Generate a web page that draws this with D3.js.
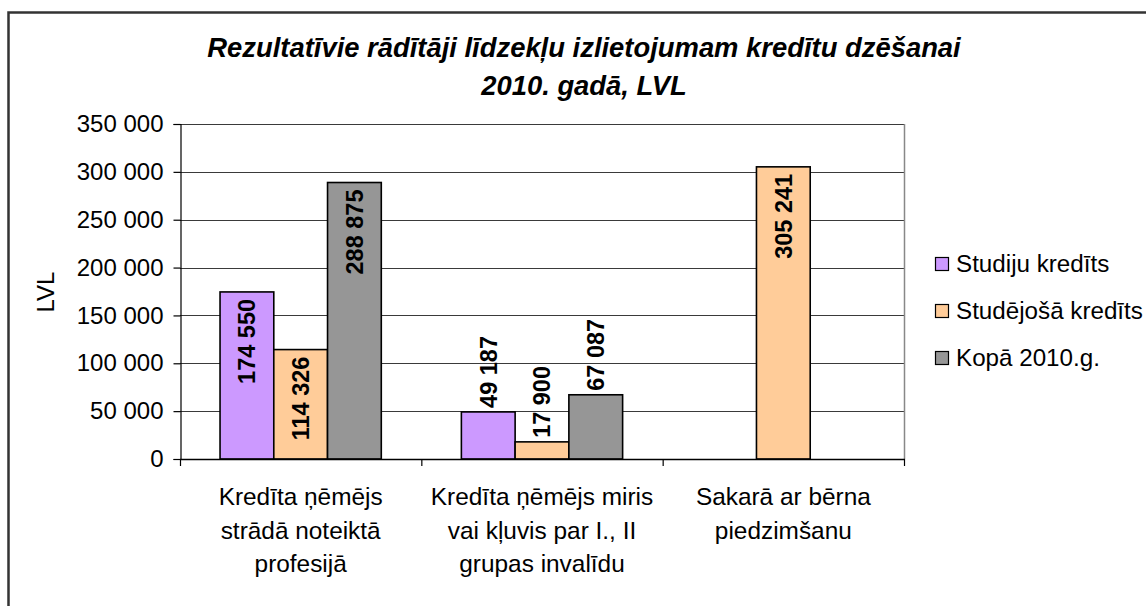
<!DOCTYPE html>
<html>
  <head>
    <meta charset="utf-8"/>
    <title>Kredītu dzēšana 2010</title>
    <style>
      body { margin: 0; background: #fff; }
      text { font-family: "Liberation Sans", Arial, sans-serif; fill: #000; }
      .title { font-size: 27.4px; font-weight: bold; font-style: italic; }
      .tick-label { font-size: 24px; }
      .cat-label { font-size: 24.4px; }
      .legend-label { font-size: 24.2px; }
      .value-label { font-size: 23.5px; font-weight: bold; }
      .grid { stroke: #3a3a3a; stroke-width: 1.2px; }
      .bar { stroke: #000; stroke-width: 1.6px; }
    </style>
    <script src="https://d3js.org/d3.v7.min.js"></script>
  </head>
  <body>
    <svg id="chart" width="1146" height="606"></svg>

    <script>
      // data
      var titleLines = ["Rezultatīvie rādītāji līdzekļu izlietojumam kredītu dzēšanai", "2010. gadā, LVL"];
      var categories = [
        ["Kredīta ņēmējs", "strādā noteiktā", "profesijā"],
        ["Kredīta ņēmējs miris", "vai kļuvis par I., II", "grupas invalīdu"],
        ["Sakarā ar bērna", "piedzimšanu"]
      ];
      var seriesNames = ["Studiju kredīts", "Studējošā kredīts", "Kopā 2010.g."];
      var studiju = [174550, 49187, null];
      var studejosa = [114326, 17900, 305241];
      var kopa = [288875, 67087, null];
      var seriesColors = ["#cc99ff", "#ffcc99", "#969696"];
      var yTicks = [0, 50000, 100000, 150000, 200000, 250000, 300000, 350000];
      var yLabel = "LVL";

      var seriesValues = [studiju, studejosa, kopa];

      var svg = d3.select("#chart");
      var plot = { left: 180, right: 904, top: 124, bottom: 459 };

      var lv = d3.formatLocale({ decimal: ",", thousands: " ", grouping: [3], currency: ["", ""] });
      var fmt = lv.format(",d");

      // outer chart border (runs past the picture edge like the original)
      svg.append("rect")
        .attr("x", 8.5).attr("y", 12.5)
        .attr("width", 1300).attr("height", 800)
        .attr("fill", "none").attr("stroke", "#333").attr("stroke-width", 2.5);

      var x = d3.scaleBand()
        .domain(d3.range(categories.length))
        .range([plot.left, plot.right])
        .paddingInner(0).paddingOuter(0);

      var xs = d3.scaleBand()
        .domain(d3.range(seriesNames.length))
        .range([0, x.bandwidth()])
        .paddingInner(0).paddingOuter(0.745);

      var y = d3.scaleLinear()
        .domain([0, 350000])
        .range([plot.bottom, plot.top]);

      // gridlines
      svg.append("g").selectAll("line")
        .data(yTicks.filter(function (d) { return d > 0; }))
        .enter().append("line")
        .attr("class", "grid")
        .attr("x1", plot.left).attr("x2", plot.right)
        .attr("y1", function (d) { return Math.round(y(d)) + 0.5; })
        .attr("y2", function (d) { return Math.round(y(d)) + 0.5; });

      // plot area right border
      svg.append("line")
        .attr("x1", plot.right + 0.5).attr("x2", plot.right + 0.5)
        .attr("y1", plot.top).attr("y2", plot.bottom)
        .attr("stroke", "#888").attr("stroke-width", 1.5);

      // bars
      var bars = [];
      seriesValues.forEach(function (vals, s) {
        vals.forEach(function (v, c) {
          if (v !== null) bars.push({ s: s, c: c, v: v });
        });
      });

      svg.append("g").selectAll("rect")
        .data(bars)
        .enter().append("rect")
        .attr("class", "bar")
        .attr("x", function (d) { return x(d.c) + xs(d.s); })
        .attr("y", function (d) { return y(d.v); })
        .attr("width", xs.bandwidth())
        .attr("height", function (d) { return y(0) - y(d.v); })
        .attr("fill", function (d) { return seriesColors[d.s]; });

      // value labels, rotated; inside the top when they fit, above otherwise
      svg.append("g").selectAll("text")
        .data(bars)
        .enter().append("text")
        .attr("class", "value-label")
        .attr("dy", "0.36em")
        .text(function (d) { return fmt(d.v); })
        .each(function (d) {
          var t = d3.select(this);
          var len = this.getComputedTextLength();
          var cx = x(d.c) + xs(d.s) + xs.bandwidth() / 2;
          var top = y(d.v);
          var inside = (y(0) - top) > len + 14;
          t.attr("text-anchor", inside ? "end" : "start")
            .attr("transform", "translate(" + cx + "," + (inside ? top + 7 : top - 4) + ") rotate(-90)");
        });

      // y axis
      var yAxis = d3.axisLeft(y)
        .tickValues(yTicks)
        .tickSize(7)
        .tickPadding(10)
        .tickFormat(fmt);

      var gy = svg.append("g")
        .attr("transform", "translate(" + (plot.left + 0.5) + ",0)")
        .call(yAxis);
      gy.select(".domain").attr("stroke", "#000").attr("stroke-width", 1.2);
      gy.selectAll(".tick line").attr("stroke", "#000").attr("stroke-width", 1.2);
      gy.selectAll(".tick text")
        .attr("class", "tick-label")
        .attr("font-size", null).attr("font-family", null);

      // x axis line and category separators
      svg.append("line")
        .attr("x1", plot.left).attr("x2", plot.right + 1)
        .attr("y1", plot.bottom + 0.5).attr("y2", plot.bottom + 0.5)
        .attr("stroke", "#000").attr("stroke-width", 1.4);

      svg.append("g").selectAll("line")
        .data(d3.range(categories.length + 1))
        .enter().append("line")
        .attr("x1", function (i) { return plot.left + i * x.step() + 0.5; })
        .attr("x2", function (i) { return plot.left + i * x.step() + 0.5; })
        .attr("y1", plot.bottom).attr("y2", plot.bottom + 7)
        .attr("stroke", "#000").attr("stroke-width", 1.2);

      // category labels
      var catG = svg.append("g").selectAll("text")
        .data(categories)
        .enter().append("text")
        .attr("class", "cat-label")
        .attr("text-anchor", "middle");

      catG.each(function (lines, i) {
        var t = d3.select(this);
        lines.forEach(function (ln, k) {
          t.append("tspan")
            .attr("x", x(i) + x.bandwidth() / 2)
            .attr("y", 505 + k * 33.5)
            .text(ln);
        });
      });

      // y axis title
      svg.append("text")
        .attr("class", "tick-label")
        .attr("text-anchor", "middle")
        .attr("transform", "translate(54,292) rotate(-90)")
        .text(yLabel);

      // title
      svg.append("text")
        .attr("class", "title")
        .attr("text-anchor", "middle")
        .selectAll("tspan")
        .data(titleLines)
        .enter().append("tspan")
        .attr("x", 584)
        .attr("y", function (d, i) { return 57 + i * 38; })
        .text(function (d) { return d; });

      // legend
      var legend = svg.append("g").selectAll("g")
        .data(seriesNames)
        .enter().append("g")
        .attr("transform", function (d, i) { return "translate(935," + (264 + i * 47) + ")"; });

      legend.append("rect")
        .attr("x", 0.5).attr("y", -6.5)
        .attr("width", 13).attr("height", 13)
        .attr("fill", function (d, i) { return seriesColors[i]; })
        .attr("stroke", "#000").attr("stroke-width", 1.2);

      legend.append("text")
        .attr("class", "legend-label")
        .attr("x", 21)
        .attr("dy", "0.35em")
        .text(function (d) { return d; });
    </script>
  </body>
</html>
